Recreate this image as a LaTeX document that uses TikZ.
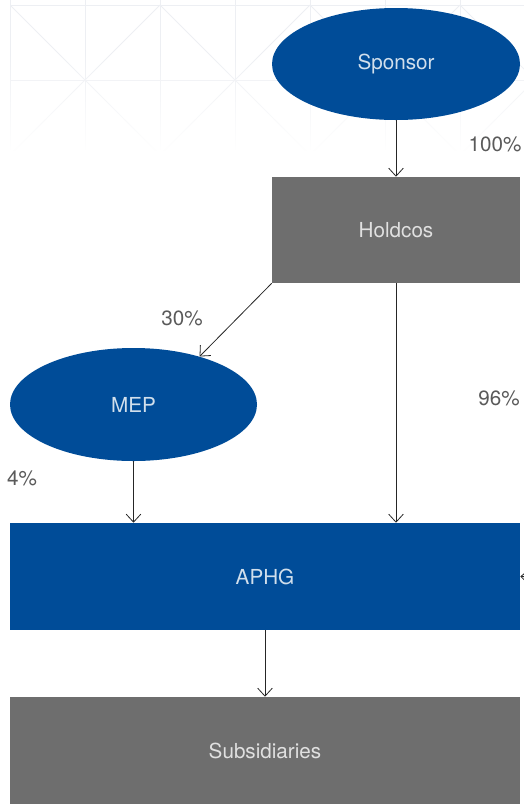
\documentclass[tikz,border=0pt]{standalone}
\usepackage{fontspec}
\setmainfont{TeX Gyre Heros}
\usetikzlibrary{positioning,arrows.meta,shapes.geometric,calc,fadings}
\definecolor{orgblue}{HTML}{004C98}
\definecolor{orggray}{HTML}{6E6E6E}
\definecolor{pctgray}{HTML}{5A5A5A}
\definecolor{gridline}{HTML}{EDEFF3}
\tikzset{
  orgtext/.style={font=\fontsize{15.5}{18}\selectfont},
  orgell/.style={ellipse, draw=none, fill=orgblue, inner sep=0pt, orgtext, text=orgblue!18},
  orgbox/.style={rectangle, draw=none, fill=orggray, inner sep=0pt, orgtext, text=white!88!black},
  orgbluebox/.style={orgbox, fill=orgblue, text=orgblue!18},
  orgarrow/.style={-{Straight Barb[length=6pt, width=11pt]}, line width=0.6pt, black!85},
  pctlabel/.style={orgtext, text=pctgray},
}

\begin{document}
\begin{tikzpicture}[x=0.75pt, y=-0.75pt]
  \useasboundingbox (0,0) rectangle (524,804);
  % faint background pattern
  \begin{scope}
    \clip (10,0) rectangle (524,150);
    \foreach \gx in {10,85,...,460} \draw[gridline, line width=0.6pt] (\gx,0) -- (\gx,150);
    \foreach \gy in {5,80} \draw[gridline, line width=0.6pt] (10,\gy) -- (524,\gy);
    \foreach \gx in {-290,-140,...,610} {
      \draw[gridline, line width=0.6pt] (\gx,5) -- ++(150,150);
      \draw[gridline, line width=0.6pt] (\gx,5) -- ++(-150,150);
    }
  \end{scope}
  \fill[white, path fading=north] (0,50) rectangle (524,152);
  % nodes
  \node[orgell, minimum width=186pt, minimum height=84pt] (sponsor) at (396,64) {Sponsor};
  \node[orgbox, minimum width=186pt, minimum height=79.5pt] (holdcos) at (396,230) {Holdcos};
  \node[orgell, minimum width=185.25pt, minimum height=84.75pt] (mep) at (133.5,404.5) {MEP};
  \node[orgbluebox, minimum width=382.5pt, minimum height=80.25pt] (aphg) at (265,576.5) {APHG};
  \node[orgbox, minimum width=382.5pt, minimum height=80.25pt] (subs) at (265,750.5) {Subsidiaries};
  \coordinate (offright) at (536,577);
  % ownership arrows
  \draw[orgarrow] (sponsor.south) -- (holdcos.north);
  \draw[orgarrow] (holdcos.south west) -- (mep.36);
  \draw[orgarrow] (holdcos.south) -- (holdcos.south |- aphg.north);
  \draw[orgarrow] (mep.south) -- (mep.south |- aphg.north);
  \draw[orgarrow] (aphg.south) -- (subs.north);
  \draw[orgarrow] (offright) -- (aphg.east);
  % percentages
  \node[pctlabel] (p100) at (495,144) {100\%};
  \node[pctlabel] (p30) at (182,318) {30\%};
  \node[pctlabel] (p96) at (499,398) {96\%};
  \node[pctlabel] (p4) at (22,478) {4\%};
\end{tikzpicture}
\end{document}
